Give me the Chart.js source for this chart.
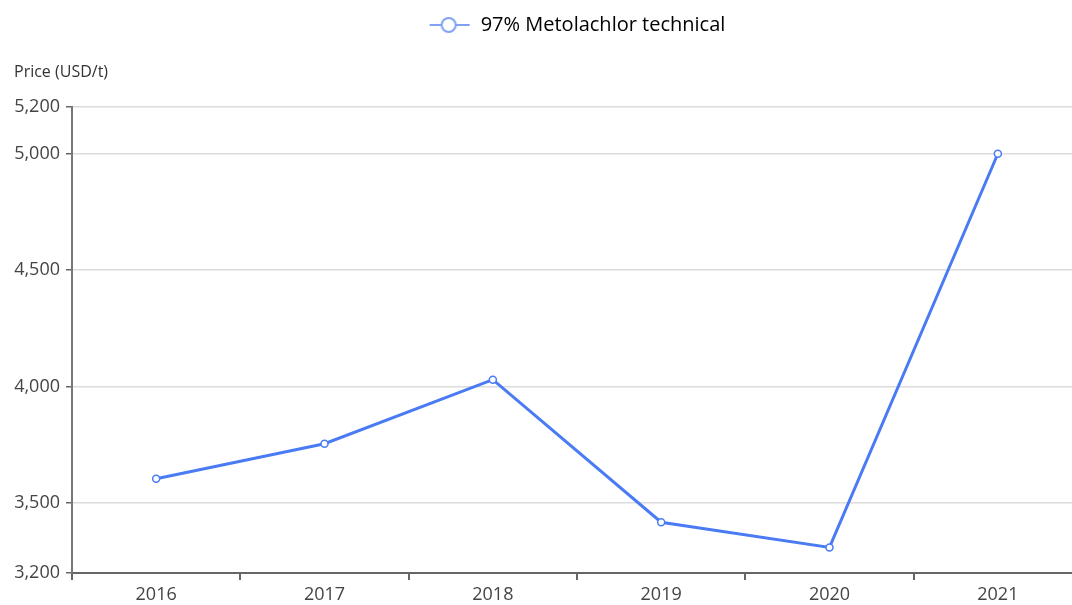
<!DOCTYPE html>
<html>
<head>
<meta charset="utf-8">
<script src="https://cdn.jsdelivr.net/npm/chart.js@4/dist/chart.umd.min.js"></script>
<style>
  html, body { margin: 0; padding: 0; background: #fff; overflow: hidden; }
  #wrap { width: 1152px; height: 605px; }
</style>
</head>
<body>
<div id="wrap"><canvas id="my-chart" width="1152" height="605"></canvas></div>
<script>
'use strict';

// >>> chart data <<<
let years = ['2016', '2017', '2018', '2019', '2020', '2021'];
let prices = [3605, 3755, 4030, 3418, 3310, 5000];
let yTicks = [3200, 3500, 4000, 4500, 5000, 5200];
let seriesName = '97% Metolachlor technical';
let yTitle = 'Price (USD/t)';

let lineBlue = '#4a7bf5';
let fontName = '"Open Sans", "Noto Sans", sans-serif';

// legend icon: short line with a hollow circle on it
function legendIcon() {
  let c = document.createElement('canvas');
  c.width = 42;
  c.height = 20;
  let g = c.getContext('2d');
  g.strokeStyle = '#7fa2f7';
  g.lineWidth = 2;
  g.beginPath();
  g.moveTo(1, 10);
  g.lineTo(41, 10);
  g.stroke();
  g.beginPath();
  g.arc(20, 10, 7, 0, Math.PI * 2);
  g.fillStyle = '#fff';
  g.fill();
  g.stroke();
  return c;
}
let icon = legendIcon();

let canvasElement = document.getElementById('my-chart').getContext('2d');

let myChart = new Chart(canvasElement, {
  type: 'line',
  data: {
    labels: years,
    datasets: [{
      label: seriesName,
      data: prices,
      borderColor: lineBlue,
      borderWidth: 3,
      pointRadius: 3.5,
      pointBorderWidth: 1.5,
      pointBackgroundColor: '#fff',
      pointBorderColor: lineBlue,
      tension: 0
    }]
  },
  options: {
    responsive: false,
    animation: false,
    layout: { padding: { left: 14, right: 70, top: 9, bottom: 0 } },
    plugins: {
      legend: {
        weight: 3000,
        fullSize: false, // center over the plot area, not the whole canvas
        labels: {
          usePointStyle: true,
          pointStyleWidth: 42,
          color: '#555',
          font: { family: fontName, size: 20 },
          padding: 6,
          generateLabels: function (chart) {
            return [{
              text: seriesName,
              pointStyle: icon,
              fillStyle: '#fff',
              strokeStyle: lineBlue,
              lineWidth: 0,
              datasetIndex: 0
            }];
          }
        }
      },
      title: {
        display: true,
        text: yTitle,
        align: 'start',
        color: '#333',
        font: { family: fontName, size: 16, weight: 'normal' },
        padding: { top: 18, bottom: 25 }
      },
      tooltip: { enabled: false }
    },
    scales: {
      x: {
        offset: true,
        afterFit: function (scale) { scale.height = 32; },
        border: { color: '#666', width: 2 },
        grid: { offset: true, drawOnChartArea: false, tickLength: 7, color: '#666', lineWidth: 2 },
        ticks: { color: '#444', font: { family: fontName, size: 18 }, padding: 4 }
      },
      y: {
        min: 3200,
        max: 5200,
        afterFit: function (scale) { scale.width = 58; },
        afterBuildTicks: function (scale) {
          scale.ticks = yTicks.map(function (v) { return { value: v }; });
        },
        border: { color: '#777', width: 2 },
        grid: { color: '#dcdcdc', lineWidth: 1.5, tickLength: 6, tickColor: '#666' },
        ticks: {
          color: '#444',
          font: { family: fontName, size: 18 },
          padding: 6,
          callback: function (v) { return v.toLocaleString('en-US'); }
        }
      }
    }
  }
});
</script>
</body>
</html>
